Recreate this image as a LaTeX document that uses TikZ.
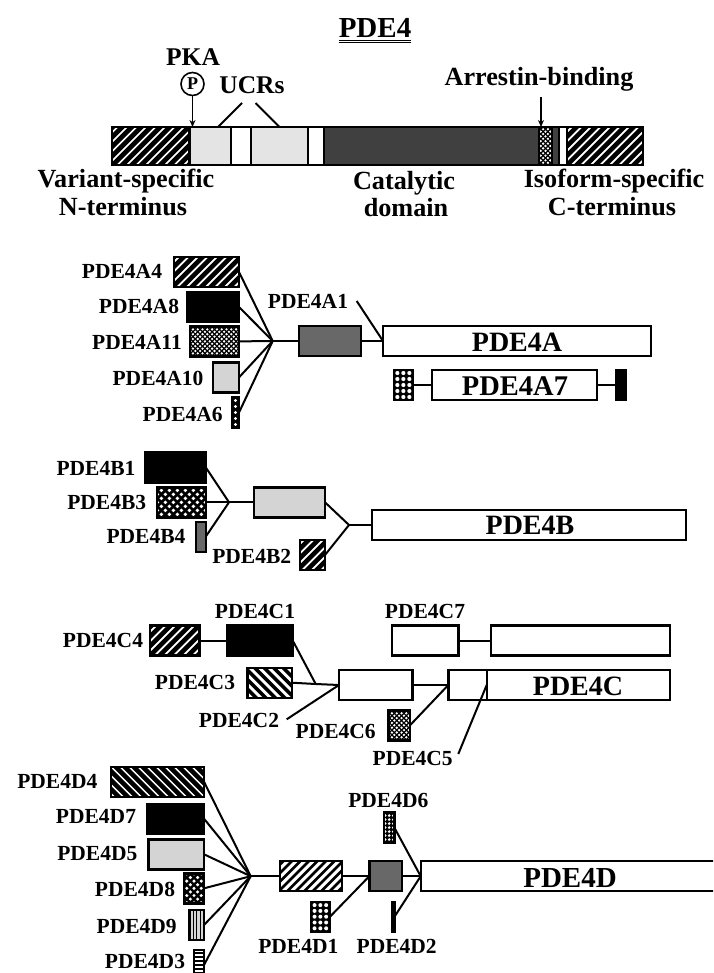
\documentclass[tikz,border=0pt]{standalone}
\usepackage{fontspec}
\setmainfont{Liberation Serif}
\usetikzlibrary{positioning,arrows.meta,calc}
\definecolor{lightdom}{HTML}{E4E4E4}
\definecolor{meshdom}{HTML}{D4D4D4}
\definecolor{greydom}{HTML}{686868}
\definecolor{darkdom}{HTML}{404040}

\begin{document}
\begin{tikzpicture}[
  x=1pt, y=-1pt,
  font=\bfseries,
  isolabel/.style={font=\fontsize{21.5}{24}\selectfont\bfseries, inner sep=0pt},
  toplabel/.style={font=\fontsize{26.2}{28}\selectfont\bfseries, inner sep=0pt},
  mainlabel/.style={font=\fontsize{28}{30}\selectfont\bfseries, inner sep=0pt},
  isobox/.style={draw=black, line width=2.4pt, inner sep=0pt, outer sep=0pt, minimum height=30pt, anchor=east},
  segment/.style={draw=black, line width=2.4pt, inner sep=0pt, outer sep=0pt, minimum height=38pt},
  link/.style={line width=2pt},
  pointer/.style={line width=1.6pt, -{Stealth[length=7pt,width=6pt]}},
  hatchup/.style 2 args={fill=white, path picture={
    \foreach \i in {-14,...,14}
      \draw[line width=#2pt] ($(path picture bounding box.center)+(\i*#1-40,40)$) -- ($(path picture bounding box.center)+(\i*#1+40,-40)$);}},
  hatchdown/.style 2 args={fill=white, path picture={
    \foreach \i in {-14,...,14}
      \draw[line width=#2pt] ($(path picture bounding box.center)+(\i*#1-40,-40)$) -- ($(path picture bounding box.center)+(\i*#1+40,40)$);}},
  speckle/.style 2 args={fill=black, path picture={
    \foreach \i in {-12,...,12} \foreach \j in {-12,...,12}
      \fill[white] ($(path picture bounding box.center)+({(\i+\j)*#1},{(\i-\j)*#1})$) circle (#2pt);}},
  gridspot/.style 2 args={fill=black, path picture={
    \foreach \i in {-4,...,4} \foreach \j in {-4,...,4}
      \fill[white] ($(path picture bounding box.center)+(\i*#1,\j*#1)$) circle (#2pt);}},
  rowlines/.style={fill=white, path picture={
    \foreach \j in {-5,...,5}
      \draw[line width=1.8pt] ($(path picture bounding box.center)+(-10,\j*4)$) -- ($(path picture bounding box.center)+(10,\j*4)$);}},
  columnlines/.style={fill=meshdom, path picture={
    \foreach \i in {-1,0,1}
      \draw[line width=1pt] ($(path picture bounding box.center)+(\i*3.5,-20)$) -- ($(path picture bounding box.center)+(\i*3.5,20)$);}},
]
\useasboundingbox (0,0) rectangle (713,973);
\clip (0,0) rectangle (713,973);

% Domain layout of the family
\node[font=\fontsize{29}{31}\selectfont\bfseries, inner sep=0pt] (title) at (375,28) {PDE4};
\draw[line width=0.9pt] ($(title.south west)+(0,3)$) -- ($(title.south east)+(0,3)$);
\draw[line width=0.9pt] ($(title.south west)+(0,5)$) -- ($(title.south east)+(0,5)$);

\node[segment, hatchup={9.5}{4.6}, minimum width=77.5pt, anchor=west] (nterm) at (112,146) {};
\node[segment, fill=lightdom, minimum width=41.5pt, right=0pt of nterm] (ucra) {};
\node[segment, fill=white, minimum width=20pt, right=0pt of ucra] (gapa) {};
\node[segment, fill=lightdom, minimum width=57pt, right=0pt of gapa] (ucrb) {};
\node[segment, fill=white, minimum width=16pt, right=0pt of ucrb] (gapb) {};
\node[segment, fill=darkdom, minimum width=215pt, right=0pt of gapb] (catal) {};
\node[segment, speckle={2.4}{1.3}, minimum width=13pt, right=0pt of catal] (arrdom) {};
\node[segment, fill=darkdom, minimum width=7pt, right=0pt of arrdom] (arrtail) {};
\node[segment, fill=white, minimum width=8pt, right=0pt of arrtail] (gapc) {};
\node[segment, hatchup={9.5}{4.6}, minimum width=76pt, right=0pt of gapc] (cterm) {};

\node[toplabel, font=\fontsize{25.5}{28}\selectfont\bfseries] (pka) at (193,57) {PKA};
\node[draw=black, circle, line width=1.6pt, minimum size=23pt, inner sep=0pt, outer sep=0pt, font=\fontsize{18}{18}\selectfont\bfseries] (phos) at (192.5,84) {P};
\node[toplabel, font=\fontsize{25.5}{28}\selectfont\bfseries] (ucrs) at (252,85) {UCRs};
\node[toplabel] (arrlabel) at (539,79) {Arrestin-binding};
\coordinate (ucrsa) at (242,103);
\coordinate (ucrsb) at (255.5,103);
\coordinate (arrtop) at (541,97);

\draw[pointer] (phos.south) -- ($(ucra.north west)+(3,0)$);
\draw[link] (ucrsa) -- ($(ucra.north east)+(-13,0)$);
\draw[link] (ucrsb) -- (ucrb.north);
\draw[pointer] (arrtop) -- ($(arrdom.north west)+(2,0)$);

\node[toplabel] (nlabela) at (126,181) {Variant-specific};
\node[toplabel] (nlabelb) at (123,207) {N-terminus};
\node[toplabel] (catlabela) at (404,183) {Catalytic};
\node[toplabel] (catlabelb) at (406,208) {domain};
\node[toplabel] (clabela) at (614,181) {Isoform-specific};
\node[toplabel] (clabelb) at (612,207) {C-terminus};

% PDE4A
\node[isobox, hatchup={9.5}{4.6}, minimum width=65pt] (afour) at (239,272) {};
\node[isobox, fill=black, minimum width=52pt] (aeight) at (239,307) {};
\node[isobox, speckle={2.4}{1.3}, minimum width=49pt] (aeleven) at (239,341.4) {};
\node[isobox, fill=meshdom, minimum width=26pt] (aten) at (239,377.4) {};
\node[isobox, gridspot={6}{1.6}, minimum width=7pt] (asix) at (239,412.5) {};
\coordinate (ahub) at (272.7,341);
\node[isobox, fill=greydom, minimum width=62pt] (aone) at (360.7,341) {};
\node[isobox, fill=white, minimum width=268pt] (amain) at (651,341) {};
\node[mainlabel] at (517,342) {PDE4A};
\coordinate (aonetail) at (356.7,301);

\foreach \n in {afour,aeight,aeleven,aten,asix}
  \draw[link] (\n.east) -- (ahub);
\draw[link] (ahub) -- (aone.west);
\draw[link] (aone.east) -- (amain.west);
\draw[link] (aonetail) -- (amain.west);

\node[isolabel] at (122,271) {PDE4A4};
\node[isolabel] at (139,306.7) {PDE4A8};
\node[isolabel] at (137,342) {PDE4A11};
\node[isolabel] at (158,378) {PDE4A10};
\node[isolabel] at (182.7,414) {PDE4A6};
\node[isolabel] at (308,301.7) {PDE4A1};

\node[isobox, gridspot={6}{2.1}, minimum width=18.7pt] (asevena) at (412.7,385) {};
\node[isobox, fill=white, minimum width=165pt] (asevenb) at (596.7,385) {};
\node[isobox, fill=black, minimum width=10pt] (asevenc) at (626,385) {};
\node[font=\fontsize{28.5}{30}\selectfont\bfseries, inner sep=0pt] at (515,386) {PDE4A7};
\draw[link] (asevena.east) -- (asevenb.west);
\draw[link] (asevenb.east) -- (asevenc.west);

% PDE4B
\node[isobox, fill=black, minimum width=60.7pt] (bone) at (205.7,467.3) {};
\node[isobox, speckle={4}{1.9}, minimum width=48.7pt] (bthree) at (205.7,502.3) {};
\node[isobox, fill=greydom, minimum width=10pt] (bfour) at (205.7,536.7) {};
\coordinate (bhub) at (229,502.3);
\node[isobox, fill=meshdom, minimum width=71pt] (bmid) at (325,502.3) {};
\node[isobox, hatchup={9.5}{4.6}, minimum width=25pt] (btwo) at (325,555) {};
\coordinate (bhubb) at (349,525);
\node[isobox, fill=white, minimum width=314pt] (bmain) at (686,525) {};
\node[mainlabel] at (530,525) {PDE4B};

\foreach \n in {bone,bthree,bfour}
  \draw[link] (\n.east) -- (bhub);
\draw[link] (bhub) -- (bmid.west);
\draw[link] (bmid.east) -- (bhubb);
\draw[link] (btwo.east) -- (bhubb);
\draw[link] (bhubb) -- (bmain.west);

\node[isolabel] at (96,468) {PDE4B1};
\node[isolabel] at (106.7,502.3) {PDE4B3};
\node[isolabel] at (146,536.7) {PDE4B4};
\node[isolabel] at (251.7,556) {PDE4B2};

% PDE4C
\node[isobox, hatchup={9.5}{4.6}, minimum width=49.3pt] (cfour) at (199.3,640.5) {};
\node[isobox, fill=black, minimum width=65.4pt] (cone) at (292.7,640.5) {};
\node[isobox, fill=white, minimum width=66.6pt] (cseven) at (458.3,640.5) {};
\node[isobox, fill=white, minimum width=179.3pt] (csevenb) at (670,640.5) {};
\node[isobox, hatchdown={9.5}{3.6}, minimum width=44.7pt] (cthree) at (292,682.7) {};
\coordinate (chub) at (315.7,684);
\node[isobox, fill=white, minimum width=73.3pt] (cmid) at (412.3,685) {};
\node[isobox, fill=white, minimum width=38.4pt] (cexon) at (486.7,685) {};
\node[isobox, fill=white, minimum width=183.3pt] (cmain) at (670,685) {};
\node[mainlabel] at (578,686) {PDE4C};
\node[isobox, speckle={2.4}{1.3}, minimum width=21.7pt] (csix) at (410,725.3) {};
\coordinate (ctwotail) at (286.7,719.3);
\coordinate (cfivetail) at (458.3,754);

\draw[link] (cfour.east) -- (cone.west);
\draw[link] (cseven.east) -- (csevenb.west);
\draw[link] (cone.east) -- (chub);
\draw[link] (cthree.east) -- (chub) -- (cmid.west);
\draw[link] (ctwotail) -- (cmid.west);
\draw[link] (cmid.east) -- (cexon.west);
\draw[link] (csix.east) -- (cexon.west);
\draw[link] (cfivetail) -- (cexon.east);

\node[isolabel] at (103,640) {PDE4C4};
\node[isolabel] at (255,611.7) {PDE4C1};
\node[isolabel] at (425,611.7) {PDE4C7};
\node[isolabel] at (195,682.7) {PDE4C3};
\node[isolabel] at (239,720.7) {PDE4C2};
\node[isolabel] at (335.7,731) {PDE4C6};
\node[isolabel] at (412.7,758) {PDE4C5};

% PDE4D
\node[isobox, hatchdown={9}{4.6}, minimum width=93pt] (dfour) at (204,781.7) {};
\node[isobox, fill=black, minimum width=57.3pt] (dseven) at (204,818.7) {};
\node[isobox, fill=meshdom, minimum width=55.7pt] (dfive) at (204,854.3) {};
\node[isobox, speckle={3.6}{1.7}, minimum width=20pt] (deight) at (204,888.3) {};
\node[isobox, columnlines, minimum width=14.7pt] (dnine) at (204,925) {};
\node[isobox, rowlines, minimum width=10pt] (dthree) at (204,965) {};
\coordinate (dhub) at (250.7,876.2);
\node[isobox, hatchup={8.5}{2.6}, minimum width=61.7pt] (dmid) at (341.7,876.2) {};
\node[isobox, fill=greydom, minimum width=32.4pt] (dsq) at (401.7,876.2) {};
\node[isobox, fill=white, minimum width=310pt] (dmain) at (730.7,876.2) {};
\node[mainlabel, font=\fontsize{29}{31}\selectfont\bfseries] at (570,877.7) {PDE4D};
\node[isobox, gridspot={5.8}{2}, minimum width=19.3pt] (done) at (330,916.7) {};
\node[isobox, fill=black, minimum width=2pt] (dtwo) at (394.5,916.7) {};
\node[isobox, gridspot={4}{1.4}, minimum width=10.3pt] (dsix) at (394.3,827.5) {};

\foreach \n in {dfour,dseven,dfive,deight,dnine,dthree}
  \draw[link] (\n.east) -- (dhub);
\draw[link] (dhub) -- (dmid.west);
\draw[link] (dmid.east) -- (dsq.west);
\draw[link] (done.east) -- (dsq.west);
\draw[link] (dsq.east) -- (dmain.west);
\draw[link] (dsix.east) -- (dmain.west);
\draw[link] (dtwo.east) -- (dmain.west);

\node[isolabel] at (57.3,781) {PDE4D4};
\node[isolabel] at (96,816.7) {PDE4D7};
\node[isolabel] at (97.3,853.3) {PDE4D5};
\node[isolabel] at (135,889.3) {PDE4D8};
\node[isolabel] at (136.7,926) {PDE4D9};
\node[isolabel] at (145,961.7) {PDE4D3};
\node[isolabel] at (388.3,800.7) {PDE4D6};
\node[isolabel] at (298.3,946.7) {PDE4D1};
\node[isolabel] at (396.7,946.7) {PDE4D2};

\end{tikzpicture}
\end{document}
